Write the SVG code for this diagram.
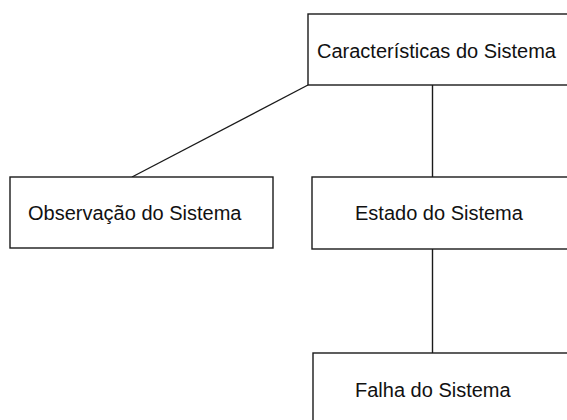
<svg xmlns="http://www.w3.org/2000/svg" width="567" height="420" viewBox="0 0 567 420">
<style>
.box{fill:#fff;stroke:#1a1a1a;stroke-width:1.4}
.lbl{font-family:"Liberation Sans",Arial,sans-serif;font-size:20px;fill:#111}
.con{stroke:#1a1a1a;stroke-width:1.4;fill:none}
</style>
<rect width="567" height="420" fill="#fff"/>
<g id="connectors">
<line class="con" x1="308" y1="85" x2="132" y2="177"/>
<line class="con" x1="432.5" y1="85" x2="432.5" y2="177"/>
<line class="con" x1="432.5" y1="249" x2="432.5" y2="353"/>
</g>
<g id="caracteristicas">
<rect class="box" x="308" y="14" width="270" height="71"/>
<text class="lbl" x="317" y="58">Características do Sistema</text>
</g>
<g id="observacao">
<rect class="box" x="10" y="177" width="263" height="71"/>
<text class="lbl" x="28" y="220">Observação do Sistema</text>
</g>
<g id="estado">
<rect class="box" x="312" y="177" width="266" height="72"/>
<text class="lbl" x="355" y="220">Estado do Sistema</text>
</g>
<g id="falha">
<rect class="box" x="313" y="353" width="265" height="80"/>
<text class="lbl" x="355" y="397">Falha do Sistema</text>
</g>
</svg>
